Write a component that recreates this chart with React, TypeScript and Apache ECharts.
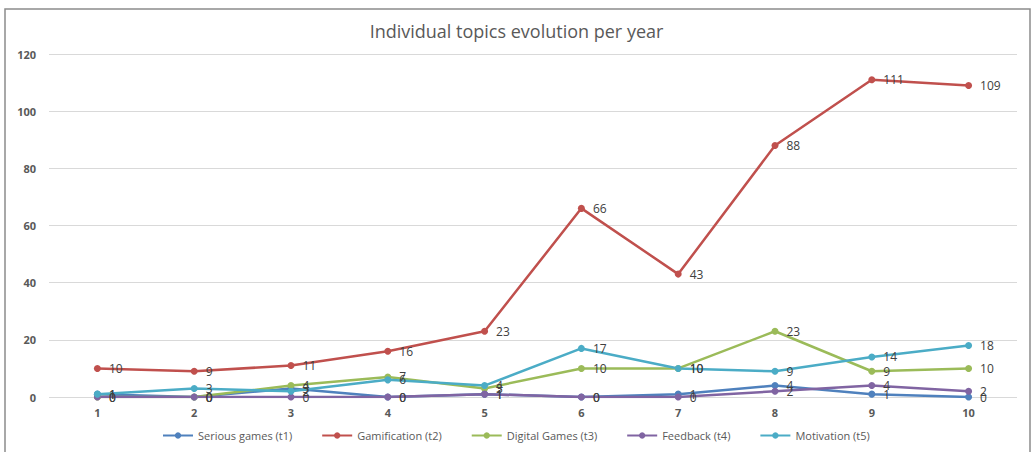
import React, { useEffect, useRef } from "react";
import * as echarts from "echarts";

const categories = ["1", "2", "3", "4", "5", "6", "7", "8", "9", "10"];
const seriousGames = [1, 0, 3, 0, 1, 0, 1, 4, 1, 0];
const gamification = [10, 9, 11, 16, 23, 66, 43, 88, 111, 109];
const digitalGames = [0, 0, 4, 7, 3, 10, 10, 23, 9, 10];
const feedback = [0, 0, 0, 0, 1, 0, 0, 2, 4, 2];
const motivation = [1, 3, 2, 6, 4, 17, 10, 9, 14, 18];

const seriesDefs = [
  { name: "Serious games (t1)", data: seriousGames, color: "#4F81BD" },
  { name: "Gamification (t2)", data: gamification, color: "#C0504D" },
  { name: "Digital Games (t3)", data: digitalGames, color: "#9BBB59" },
  { name: "Feedback (t4)", data: feedback, color: "#8064A2" },
  { name: "Motivation (t5)", data: motivation, color: "#4BACC6" },
];

export default function App() {
  const ref = useRef<HTMLDivElement>(null);
  useEffect(() => {
    document.body.style.margin = "0";
    const chart = echarts.init(ref.current!, null, { renderer: "svg" });
    const font = "'Liberation Sans Narrow', 'Open Sans', sans-serif";
    chart.setOption({
      animation: false,
      backgroundColor: "#ffffff",
      title: {
        text: "Individual topics evolution per year",
        left: "center",
        top: 17,
        textStyle: { color: "#595959", fontSize: 18, fontWeight: "normal", fontFamily: font },
      },
      graphic: [
        {
          type: "rect",
          shape: { x: 5, y: 9, width: 1025, height: 450 },
          style: { fill: "none", stroke: "#8c8c8c", lineWidth: 1.5 },
          silent: true,
        },
      ],
      legend: {
        bottom: 6,
        left: 157,
        itemGap: 29,
        itemWidth: 30,
        itemHeight: 8,
        textStyle: { color: "#595959", fontSize: 11, fontFamily: font },
        data: seriesDefs.map((s) => s.name),
      },
      grid: { left: 49, right: 16, top: 54, bottom: 55 },
      xAxis: {
        type: "category",
        data: categories,
        boundaryGap: true,
        axisLine: { show: false },
        axisTick: { show: false },
        axisLabel: { color: "#595959", fontSize: 11, fontWeight: "bold", margin: 10, fontFamily: font },
      },
      yAxis: {
        type: "value",
        min: 0,
        max: 120,
        interval: 20,
        axisLine: { show: false },
        axisTick: { show: false },
        axisLabel: { color: "#595959", fontSize: 11, fontWeight: "bold", margin: 13, fontFamily: font },
        splitLine: { lineStyle: { color: "#D9D9D9", width: 1 } },
      },
      series: seriesDefs.map((s) => ({
        name: s.name,
        type: "line",
        data: s.data,
        color: s.color,
        symbol: "circle",
        symbolSize: 7,
        lineStyle: { width: 2.5, color: s.color },
        itemStyle: { color: s.color },
        label: {
          show: true,
          position: "right",
          distance: 8,
          color: "#404040",
          textBorderWidth: 0,
          fontSize: 12,
          fontFamily: font,
        },
      })),
    });
    return () => chart.dispose();
  }, []);
  return <div ref={ref} style={{ width: 1033, height: 452, position: "fixed", left: 0, top: 0 }} />;
}
